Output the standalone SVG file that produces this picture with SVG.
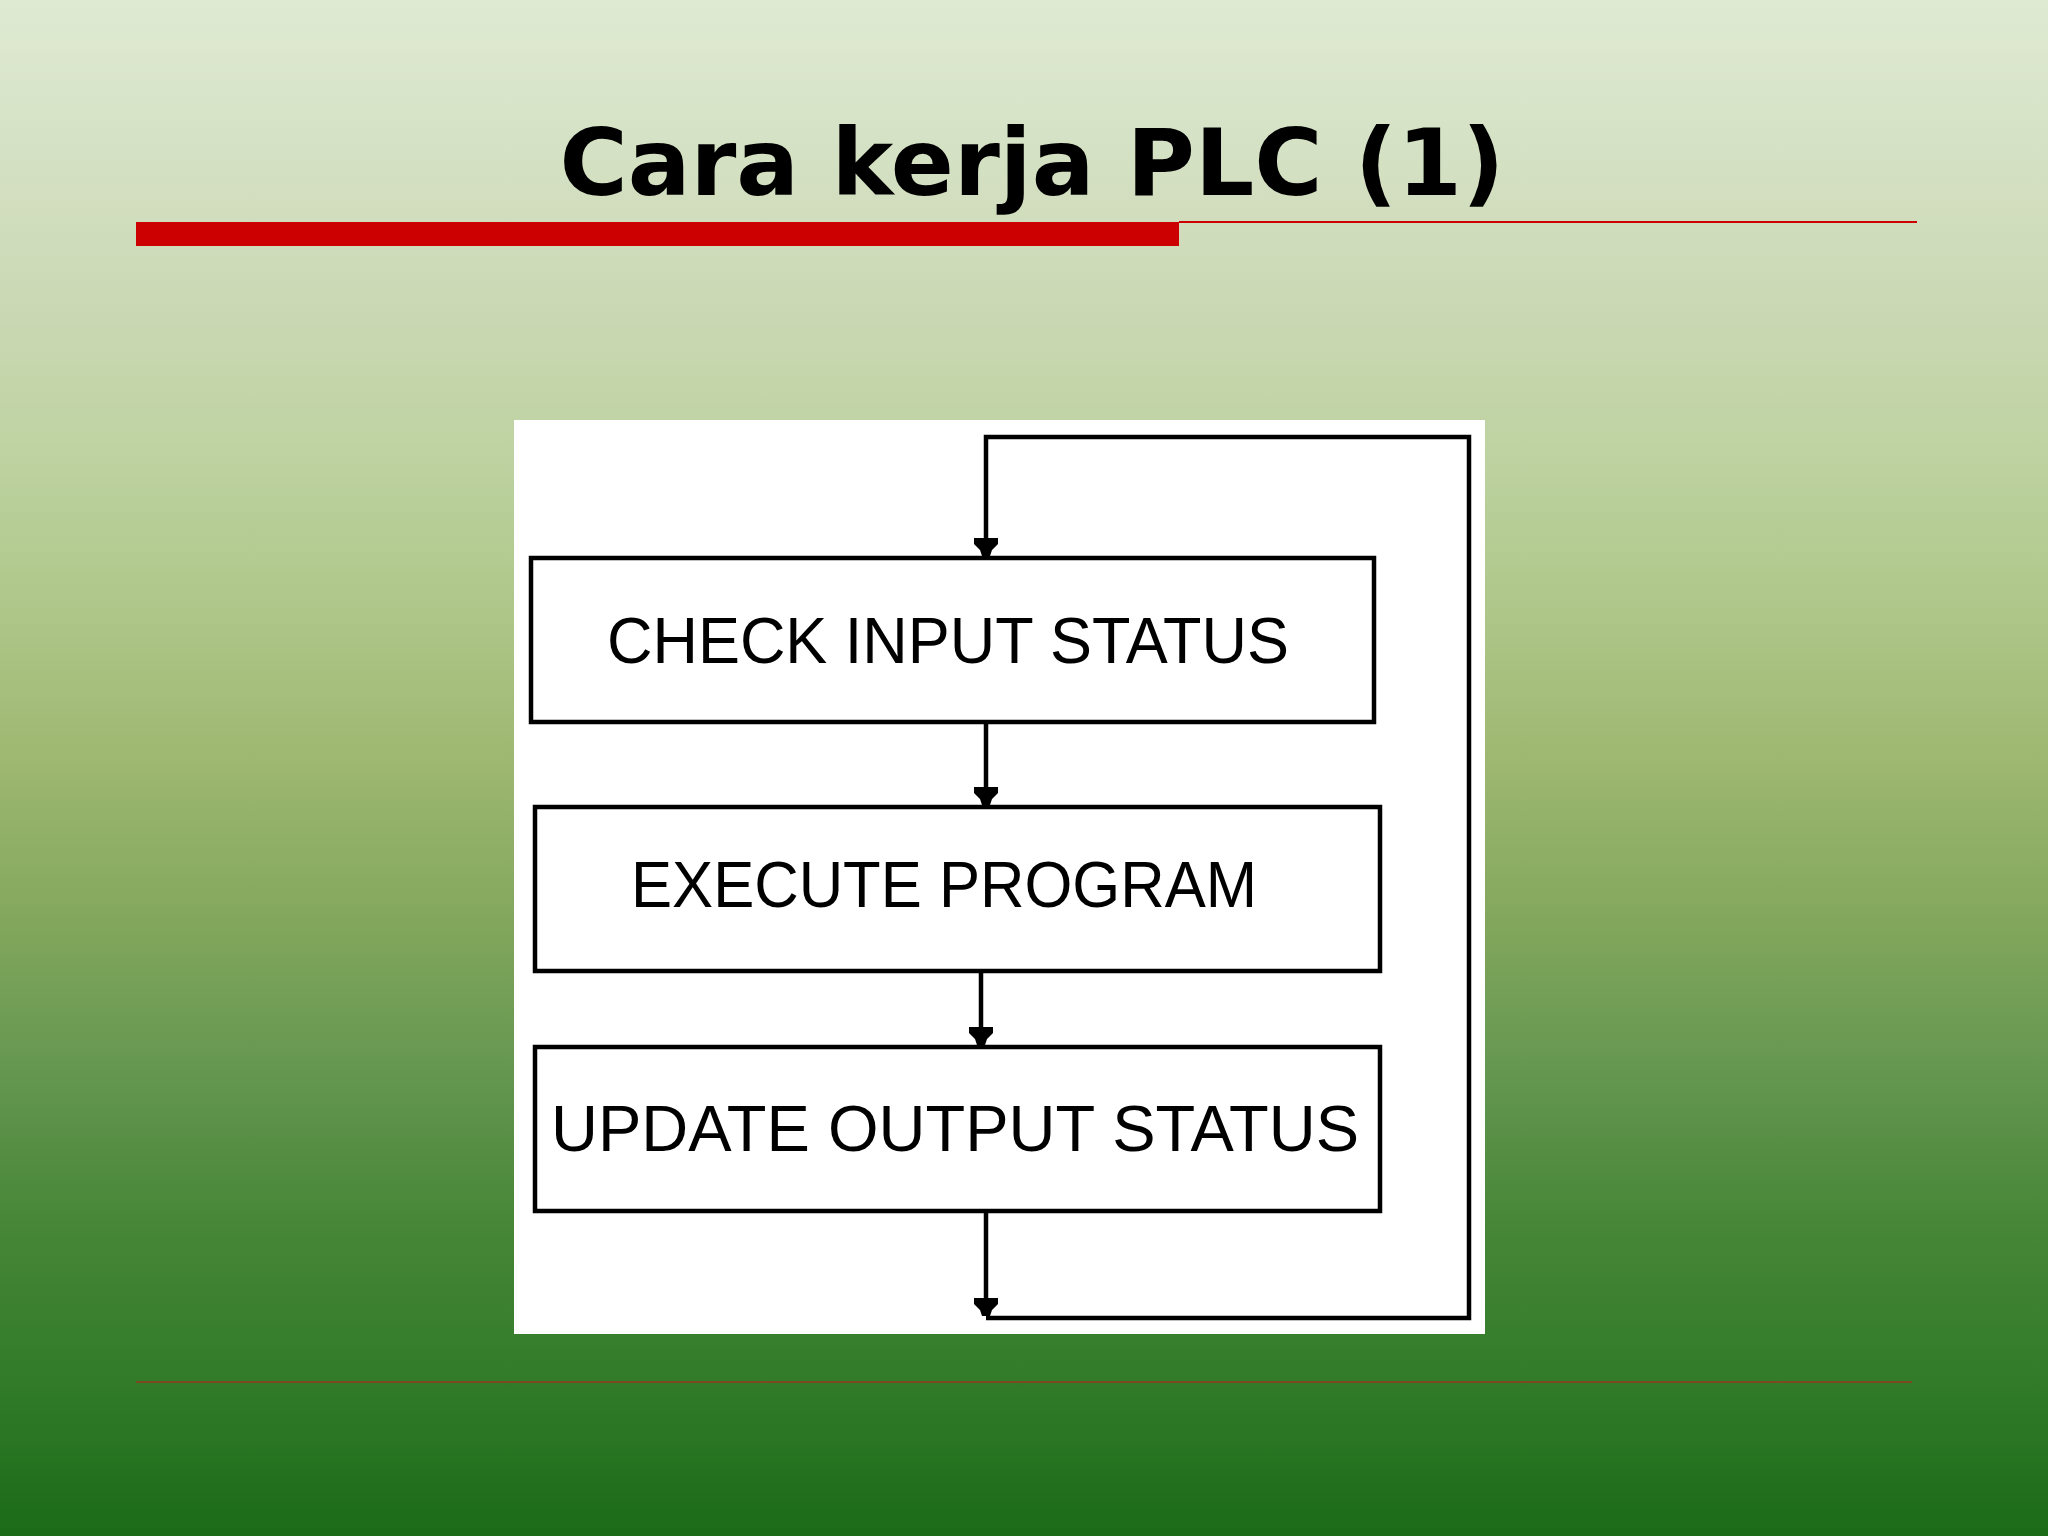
<svg xmlns="http://www.w3.org/2000/svg" width="2048" height="1536" viewBox="0 0 2048 1536">
  <defs>
    <linearGradient id="bg" x1="0" y1="0" x2="0" y2="1">
      <stop offset="0" stop-color="#dfead3"/>
      <stop offset="0.2" stop-color="#cbd8b4"/>
      <stop offset="0.3" stop-color="#bdd2a0"/>
      <stop offset="0.4" stop-color="#aec688"/>
      <stop offset="0.5" stop-color="#9db770"/>
      <stop offset="0.6" stop-color="#82a75c"/>
      <stop offset="0.7" stop-color="#649650"/>
      <stop offset="0.8" stop-color="#468636"/>
      <stop offset="0.9" stop-color="#317b29"/>
      <stop offset="1" stop-color="#1b6b18"/>
    </linearGradient>
    <polygon id="ah" points="-12,-18 12,-18 12,-12 6,-6 4,0 -4,0 -6,-6 -12,-12" fill="#000"/>
    <style>
      .box { fill: #ffffff; stroke: #000; stroke-width: 4.5; }
      .lbl { font-family: "Liberation Sans", Arial, sans-serif; font-size: 64px; fill: #000; }
      .conn { fill: none; stroke: #000; stroke-width: 4.5; }
      .title { font-family: "DejaVu Sans", Verdana, sans-serif; font-weight: bold; font-size: 93px; fill: #000; }
    </style>
  </defs>

  <rect x="0" y="0" width="2048" height="1536" fill="url(#bg)"/>

  <text class="title" x="1032" y="195" text-anchor="middle">Cara kerja PLC (1)</text>
  <rect x="136" y="222" width="1043" height="24" fill="#cc0000"/>
  <rect x="1179" y="221" width="738" height="2" fill="#cc0000"/>
  <rect x="136" y="1381" width="1776" height="2" fill="#7a4a22"/>

  <rect x="514" y="420" width="971" height="914" fill="#ffffff"/>

  <g id="connectors">
    <path class="conn" d="M986,724 V804"/>
    <use href="#ah" x="986" y="805"/>
    <path class="conn" d="M981,971 V1044"/>
    <use href="#ah" x="981" y="1045"/>
    <path class="conn" d="M986,1211 V1316"/>
    <use href="#ah" x="986" y="1316"/>
    <path class="conn" d="M986,1318 H1469 V437 H986 V552"/>
    <use href="#ah" x="986" y="556"/>
  </g>

  <g id="node-check">
    <rect class="box" x="531" y="558" width="843" height="164"/>
    <text class="lbl" x="607" y="663" textLength="682" lengthAdjust="spacingAndGlyphs">CHECK INPUT STATUS</text>
  </g>
  <g id="node-execute">
    <rect class="box" x="535" y="807" width="845" height="164"/>
    <text class="lbl" x="631" y="907" textLength="626" lengthAdjust="spacingAndGlyphs">EXECUTE PROGRAM</text>
  </g>
  <g id="node-update">
    <rect class="box" x="535" y="1047" width="845" height="164"/>
    <text class="lbl" x="551" y="1151" textLength="808" lengthAdjust="spacingAndGlyphs">UPDATE OUTPUT STATUS</text>
  </g>
</svg>
